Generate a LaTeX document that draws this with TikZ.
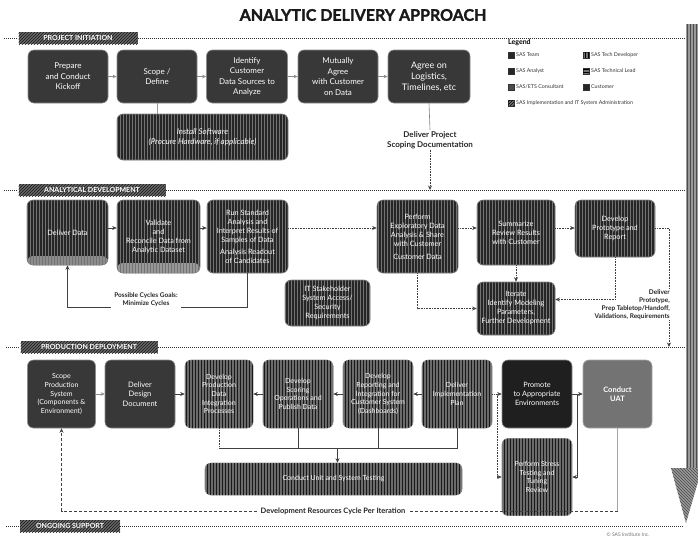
\documentclass[tikz,border=0pt]{standalone}
\usepackage{fontspec}
\setmainfont{Lato}
\newfontfamily\heavytitle[FakeBold=1.6]{Lato}
\usetikzlibrary{arrows.meta,patterns,calc}
\begin{document}
\begin{tikzpicture}[x=1pt,y=-1pt,
  box/.style={rounded corners=6pt, draw=black!45, line width=0.6pt, fill=black!78, text=white, align=center, inner sep=2pt, font=\fontsize{8}{10.5}\selectfont},
  vbox/.style={box, fill=black!85, font=\fontsize{7.3}{9}\selectfont, postaction={pattern=vertical lines, pattern color=black!55}},
  hbox/.style={box, fill=black!58, font=\fontsize{7}{8.6}\selectfont, postaction={pattern=vertical lines, pattern color=black!90}},
  phase/.style={fill=black!60, text=white, font=\fontsize{7}{8}\selectfont\bfseries, inner sep=1pt, minimum height=12, postaction={pattern=north east lines, pattern color=black!90}},
  phl/.style={densely dotted, line width=1pt, black!80},
  arr/.style={-{Stealth[length=4.5pt,width=4pt]}, black!75, line width=0.6pt},
  darr/.style={arr, densely dotted, line width=0.8pt},
  ln/.style={black!75, line width=0.6pt},
  dln/.style={ln, densely dotted, line width=0.8pt},
  garr/.style={-{Stealth[length=4pt,width=3.5pt]}, black!45, line width=0.9pt},
  lbl/.style={font=\fontsize{7}{8.5}\selectfont\bfseries, align=center, text=black!85, inner sep=1pt},
  mk/.style={minimum size=5.5, inner sep=0, draw=black!80, fill=black!85},
  lgt/.style={font=\fontsize{5.3}{6}\selectfont, anchor=west, inner sep=1pt, text=black!80}
]
\useasboundingbox (0,0) rectangle (698,541);
\coordinate (rend) at (684,0);

% ---------- right-hand progress arrow ----------
\path[fill=black!40, postaction={pattern=vertical lines, pattern color=black!70}]
  (686,24) rectangle (702,468);
\path[fill=black!40, postaction={pattern=north west lines, pattern color=black!70}]
  (671,468) -- (702,468) -- (686,523) -- cycle;

% ---------- title ----------
\node[font=\fontsize{16}{18}\heavytitle\bfseries, text=black!90] (title) at (363,15) {ANALYTIC DELIVERY APPROACH};

% ---------- phase headers ----------
\node[phase, minimum width=119] (P1) at (78,38) {PROJECT INITIATION};
\node[phase, minimum width=147] (P2) at (92,190) {ANALYTICAL DEVELOPMENT};
\node[phase, minimum width=137] (P3) at (89,347) {PRODUCTION DEPLOYMENT};
\node[phase, minimum width=100] (P4) at (70,526) {ONGOING SUPPORT};
\draw[phl] ([xshift=-14pt]P1.west) -- (P1.west);
\draw[phl] (P1.east) -- (P1.east -| rend);
\draw[phl] ([xshift=-14pt]P2.west) -- (P2.west);
\draw[phl] (P2.east) -- (P2.east -| rend);
\draw[phl] ([xshift=-14pt]P3.west) -- (P3.west);
\draw[phl] (P3.east) -- (P3.east -| rend);
\draw[phl] ([xshift=-14pt]P4.west) -- (P4.west);
\draw[phl] (P4.east) -- (P4.east -| rend);

% ---------- legend ----------
\node[font=\fontsize{7}{8}\selectfont\bfseries, anchor=west, inner sep=1pt] (leg) at (507,43) {Legend};
\node[mk] (m1) at (511,55) {};
\node[lgt] (l1) at (515,55) {SAS Team};
\node[mk, fill=black!55, postaction={pattern=vertical lines, pattern color=black}] (m2) at (586,55) {};
\node[lgt] (l2) at (590,55) {SAS Tech Developer};
\node[mk] (m3) at (511,71) {};
\node[lgt] (l3) at (515,71) {SAS Analyst};
\node[mk, fill=black!55, postaction={pattern=horizontal lines, pattern color=black}] (m4) at (586,71) {};
\node[lgt] (l4) at (590,71) {SAS Technical Lead};
\node[mk, fill=black!70] (m5) at (511,87) {};
\node[lgt] (l5) at (515,87) {SAS/ETS Consultant};
\node[mk] (m6) at (586,87) {};
\node[lgt] (l6) at (590,87) {Customer};
\node[mk, fill=black!55, postaction={pattern=north east lines, pattern color=black}] (m7) at (511,103) {};
\node[lgt] (l7) at (515,103) {SAS Implementation and IT System Administration};

% ---------- phase 1 ----------
\node[box, minimum width=80, minimum height=53] (b1) at (68,76.5) {Prepare\\and Conduct\\Kickoff};
\node[box, minimum width=80, minimum height=53] (b2) at (157,76.5) {Scope /\\Define};
\node[box, minimum width=81, minimum height=53] (b3) at (247,76.5) {Identify\\Customer\\Data Sources to\\Analyze};
\node[box, minimum width=80, minimum height=53] (b4) at (338,76.5) {Mutually\\Agree\\with Customer\\on Data};
\node[box, minimum width=82, minimum height=53, font=\fontsize{9}{11}\selectfont] (b5) at (429,76.5) {Agree on\\Logistics,\\Timelines, etc};
\node[vbox, minimum width=171, minimum height=46, font=\fontsize{8}{10}\selectfont\itshape] (inst) at (202.5,137) {Install Software\\(Procure Hardware, if applicable)};
\draw[garr] (b1.east) -- (b2.west);
\draw[garr] (b2.east) -- (b3.west);
\draw[garr] (b3.east) -- (b4.west);
\draw[garr] (b4.east) -- (b5.west);
\draw[ln, black!40] (b2.south) -- (b2.south |- inst.north);

\node[lbl, font=\fontsize{8}{10}\selectfont\bfseries] (dps) at (430,140) {Deliver Project\\Scoping Documentation};
\draw[ln, black!50] (b5.south) -- (dps.north);
\draw[darr] (dps.south) -- (dps.south |- P2.east);

% ---------- phase 2 ----------
\coordinate (r2) at (0,228);
\node[vbox, minimum width=81, minimum height=65,
  path picture={\fill[black!45] ([yshift=9pt]path picture bounding box.south west) rectangle (path picture bounding box.south east);}] (A) at (67.5,232.5) {Deliver Data};
\node[vbox, minimum width=83, minimum height=73,
  path picture={\fill[black!40] ([yshift=10pt]path picture bounding box.south west) rectangle (path picture bounding box.south east);}] (B) at (158.5,236.5) {Validate\\and\\Reconcile Data from\\Analytic Dataset};
\node[vbox, minimum width=81, minimum height=73] (C) at (247.5,236.5) {Run Standard\\Analysis and\\Interpret Results of\\Samples of Data\\[3pt]Analysis Readout\\of Candidates};
\node[vbox, minimum width=81, minimum height=73] (D) at (417.5,236.5) {Perform\\Exploratory Data\\Analysis \& Share\\with Customer\\[4pt]Customer Data};
\node[vbox, minimum width=78, minimum height=65] (E) at (516,232.5) {Summarize\\Review Results\\with Customer};
\node[vbox, minimum width=80, minimum height=57] (F) at (615,228.5) {Develop\\Prototype and\\Report};
\node[vbox, minimum width=78, minimum height=53] (G) at (516,308.5) {Iterate\\Identify Modeling\\Parameters,\\Further Development};
\node[vbox, minimum width=85, minimum height=46] (H) at (327.5,303) {IT Stakeholder\\System Access/\\Security\\Requirements};

\draw[arr] (A.east |- r2) -- (B.west |- r2);
\draw[arr] (B.east |- r2) -- (C.west |- r2);
\draw[darr] (C.east |- r2) -- (D.west |- r2);
\draw[darr] (D.east |- r2) -- (E.west |- r2);
\draw[darr] (E.east |- r2) -- (F.west |- r2);
\draw[darr] (E.south) -- (G.north);
\draw[darr] (D.south) |- (G.west);
\draw[darr] (F.south) |- ([yshift=9pt]G.east);

\node[lbl, font=\fontsize{6.5}{8}\selectfont\bfseries, align=right, anchor=north east] (dp) at (671,288) {Deliver\\Prototype,\\Prep Tabletop/Handoff,\\Validations, Requirements};
\draw[dln] (F.east |- r2) -| ([xshift=-2pt]dp.north east);
\draw[darr] ([xshift=-2pt]dp.south east) -- ([xshift=-2pt]dp.south east |- P3.east);

\coordinate (ly) at (0,307);
\node[lbl, font=\fontsize{6.5}{8}\selectfont\bfseries] (cyc) at (146,300) {Possible Cycles Goals:\\Minimize Cycles};
\draw[ln] (C.south) |- ([xshift=2pt]cyc.east |- ly);
\draw[arr] ([xshift=-2pt]cyc.west |- ly) -| (A.south);

% ---------- phase 3 ----------
\node[box, minimum width=68, minimum height=68, font=\fontsize{7}{8.6}\selectfont] (B1) at (61.5,394) {Scope\\Production\\System\\(Components \&\\Environment)};
\node[box, minimum width=70, minimum height=68, font=\fontsize{7.5}{9.5}\selectfont] (B2) at (140,394) {Deliver\\Design\\Document};
\node[hbox, minimum width=68, minimum height=68] (B3) at (219,394) {Develop\\Production\\Data\\Integration\\Processes};
\node[hbox, minimum width=70, minimum height=68] (B4) at (298,394) {Develop\\Scoring\\Operations and\\Publish Data};
\node[hbox, minimum width=70, minimum height=68] (B5) at (378,394) {Develop\\Reporting and\\Integration for\\Customer System\\(Dashboards)};
\node[hbox, minimum width=70, minimum height=68] (B6) at (457,394) {Deliver\\Implementation\\Plan};
\node[box, fill=black!88, minimum width=70, minimum height=68, font=\fontsize{7.3}{9}\selectfont] (B7) at (537,394) {Promote\\to Appropriate\\Environments};
\node[box, fill=black!55, draw=black!35, minimum width=69, minimum height=68, font=\fontsize{7.5}{9.5}\selectfont\bfseries] (B8) at (617.5,394) {Conduct\\UAT};
\node[hbox, minimum width=257, minimum height=32] (W) at (333.5,479) {Conduct Unit and System Testing};
\node[hbox, minimum width=70, minimum height=77] (T) at (537,477) {Perform Stress\\Testing and\\Tuning\\Review};

\draw[garr] (B1.east) -- (B2.west);
\draw[arr] (B2.east) -- (B3.west);
\draw[arr] (B4.west) -- (B3.east);
\draw[arr] (B5.west) -- (B4.east);
\draw[arr] (B6.west) -- (B5.east);
\draw[darr] (B6.east) -- (B7.west);
\draw[arr] (B7.east) -- (B8.west);
\coordinate (j1) at ($(B6.east)!0.5!(B7.west)$);
\coordinate (j2) at ($(B7.east)!0.5!(B8.west)$);
\draw[darr] (j1) |- (T.west);
\draw[arr] (j2) |- (T.east);

\coordinate (hy) at (0,448);
\draw[dln] (B3.south) -- (B3.south |- hy);
\draw[ln] (B3.south |- hy) -- (B6.south |- hy) -- (B6.south);
\draw[ln] (B4.south) -- (B4.south |- hy);
\draw[ln] (B5.south) -- (B5.south |- hy);
\draw[arr] ([xshift=4pt]W.north |- hy) -- ([xshift=4pt]W.north);

\node[lbl, font=\fontsize{7.5}{9}\selectfont\bfseries] (dev) at (333,511) {Development Resources Cycle Per Iteration};
\draw[black!35, line width=0.9pt] (B8.south) -- (B8.south |- dev.east);
\draw[ln, densely dashed] (B8.south |- dev.east) -- ([xshift=3pt]dev.east);
\draw[arr, densely dashed] ([xshift=-3pt]dev.west) -| (B1.south);

% ---------- footer ----------
\node[font=\fontsize{5}{6}\selectfont, text=black!55, inner sep=1pt] (foot) at (628,535) {© SAS Institute Inc.};
\end{tikzpicture}
\end{document}
